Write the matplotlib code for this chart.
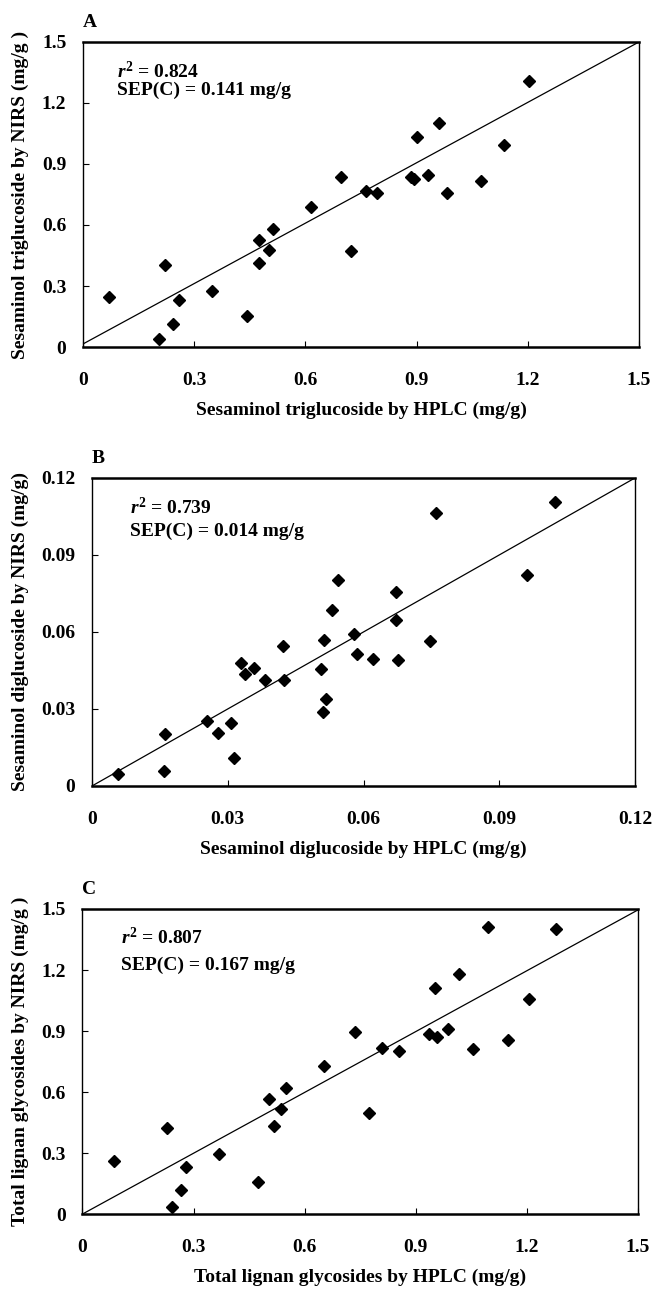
import matplotlib
matplotlib.use("Agg")
import matplotlib.pyplot as plt
import numpy as np

plt.rcParams['font.family'] = ['Liberation Serif', 'DejaVu Serif']
plt.rcParams['font.weight'] = 'bold'
plt.rcParams['mathtext.fontset'] = 'custom'
plt.rcParams['mathtext.it'] = 'Liberation Serif:italic:bold'
plt.rcParams['mathtext.rm'] = 'Liberation Serif:bold'
plt.rcParams['mathtext.bf'] = 'Liberation Serif:bold'

# Panel A: sesaminol triglucoside
a_hplc = [0.071, 0.222, 0.206, 0.242, 0.260, 0.349, 0.442, 0.476, 0.476, 0.502,
          0.512, 0.614, 0.696, 0.723, 0.763, 0.794, 0.884, 0.893, 0.900, 0.932,
          0.960, 0.983, 1.073, 1.136, 1.202]
a_nirs = [0.247, 0.403, 0.039, 0.113, 0.231, 0.274, 0.152, 0.528, 0.411, 0.477,
          0.582, 0.687, 0.838, 0.472, 0.769, 0.756, 0.838, 0.828, 1.034, 0.848,
          1.103, 0.756, 0.818, 0.992, 1.307]
a_fit = (0.015, 0.99)

# Panel B: sesaminol diglucoside
b_hplc = [0.0057, 0.0160, 0.0162, 0.0253, 0.0279, 0.0308, 0.0313, 0.0330, 0.0338,
          0.0357, 0.0383, 0.0421, 0.0424, 0.0507, 0.0510, 0.0518, 0.0512, 0.0531,
          0.0544, 0.0578, 0.0586, 0.0621, 0.0672, 0.0672, 0.0676, 0.0746, 0.0760,
          0.0961, 0.1024]
b_nirs = [0.0047, 0.0057, 0.0203, 0.0252, 0.0206, 0.0245, 0.0109, 0.0479, 0.0436,
          0.0460, 0.0413, 0.0544, 0.0413, 0.0454, 0.0288, 0.0339, 0.0567, 0.0687,
          0.0802, 0.0592, 0.0514, 0.0495, 0.0754, 0.0645, 0.0489, 0.0563, 0.1065,
          0.0820, 0.1108]
b_fit = (0.0, 1.0)

# Panel C: total lignan glycosides
c_hplc = [0.086, 0.229, 0.243, 0.265, 0.280, 0.368, 0.473, 0.504, 0.518, 0.536,
          0.550, 0.652, 0.736, 0.774, 0.808, 0.855, 0.935, 0.956, 0.953, 0.986,
          1.018, 1.055, 1.095, 1.149, 1.207, 1.279]
c_nirs = [0.262, 0.423, 0.034, 0.116, 0.229, 0.295, 0.159, 0.566, 0.431, 0.516,
          0.620, 0.726, 0.893, 0.497, 0.818, 0.800, 0.885, 0.872, 1.113, 0.910,
          1.180, 0.810, 1.410, 0.856, 1.058, 1.402]
c_fit = (0.0, 0.997)

panels = [
    dict(letter='A', x=a_hplc, y=a_nirs, fit=a_fit, lim=1.5, step=0.3,
         ticks=['0', '0.3', '0.6', '0.9', '1.2', '1.5'],
         r2='0.824', sep='0.141', txt=(0.061, 0.902, 0.843),
         xlabel='Sesaminol triglucoside by HPLC (mg/g)',
         ylabel='Sesaminol triglucoside by NIRS (mg/g )',
         rect=[0.1269, 0.7312, 0.8502, 0.2363]),
    dict(letter='B', x=b_hplc, y=b_nirs, fit=b_fit, lim=0.12, step=0.03,
         ticks=['0', '0.03', '0.06', '0.09', '0.12'],
         r2='0.739', sep='0.014', txt=(0.070, 0.903, 0.825),
         xlabel='Sesaminol diglucoside by HPLC (mg/g)',
         ylabel='Sesaminol diglucoside by NIRS (mg/g)',
         rect=[0.1407, 0.3912, 0.8303, 0.2386]),
    dict(letter='C', x=c_hplc, y=c_nirs, fit=c_fit, lim=1.5, step=0.3,
         ticks=['0', '0.3', '0.6', '0.9', '1.2', '1.5'],
         r2='0.807', sep='0.167', txt=(0.070, 0.908, 0.816),
         xlabel='Total lignan glycosides by HPLC (mg/g)',
         ylabel='Total lignan glycosides by NIRS (mg/g )',
         rect=[0.1261, 0.0596, 0.8494, 0.2363]),
]

fig = plt.figure(figsize=(6.54, 12.91), dpi=100)
fs = 14

for p in panels:
    ax = fig.add_axes(p['rect'])
    lim = p['lim']
    xx = np.array([0, lim])
    ax.plot(xx, p['fit'][0] + p['fit'][1] * xx, color='black', lw=0.9)
    ax.plot(p['x'], p['y'], linestyle='none', marker='D', ms=5.8,
            color='black', clip_on=False)
    ax.set_xlim(0, lim)
    ax.set_ylim(0, lim)
    tv = np.arange(len(p['ticks'])) * p['step']
    ax.set_xticks(tv)
    ax.set_yticks(tv)
    ax.set_xticklabels(p['ticks'], fontsize=fs, fontweight='bold')
    ax.set_yticklabels(p['ticks'], fontsize=fs, fontweight='bold')
    ax.tick_params(direction='in', length=4, width=0.8)
    ax.tick_params(axis='x', pad=18)
    ax.tick_params(axis='y', pad=12)
    for side in ['left', 'right']:
        ax.spines[side].set_linewidth(1.0)
    for side in ['top', 'bottom']:
        ax.spines[side].set_linewidth(1.8)
    ax.set_xlabel(p['xlabel'], fontsize=fs, fontweight='bold', labelpad=9)
    ax.set_ylabel(p['ylabel'], fontsize=fs, fontweight='bold', labelpad=9)
    ax.text(0.0, 1.035, p['letter'], transform=ax.transAxes, fontsize=fs,
            fontweight='bold', ha='left', va='bottom')
    tx, ty1, ty2 = p['txt']
    ax.text(tx, ty1, r'$r^{2}$ = ' + p['r2'], transform=ax.transAxes,
            fontsize=fs, fontweight='bold', ha='left', va='center')
    ax.text(tx, ty2, 'SEP(C) = ' + p['sep'] + ' mg/g', transform=ax.transAxes,
            fontsize=fs, fontweight='bold', ha='left', va='center')

fig.savefig('out.png', dpi=100)
